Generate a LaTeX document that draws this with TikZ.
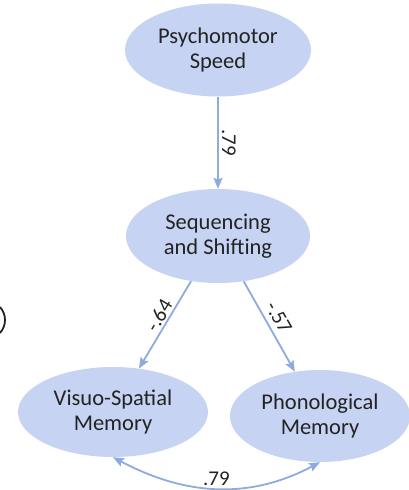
\documentclass[tikz,border=0pt]{standalone}
\usepackage{fontspec}
\setmainfont{Carlito}
\usetikzlibrary{shapes.geometric,arrows.meta}
\definecolor{nodefill}{RGB}{199,211,242}
\definecolor{pathblue}{RGB}{143,170,222}
\definecolor{inkgray}{RGB}{35,35,35}
\begin{document}
\begin{tikzpicture}[x=1pt,y=1pt,
  factor/.style={ellipse, fill=nodefill, draw=none, inner sep=0pt, align=center,
    text=inkgray, font=\fontsize{22.5}{24.5}\selectfont},
  link/.style={draw=pathblue, line width=1.8pt,
    -{Stealth[length=11pt,width=9pt,inset=2pt]}},
  twoway/.style={draw=pathblue, line width=1.8pt,
    {Stealth[length=11pt,width=9pt,inset=2pt]}-{Stealth[length=11pt,width=9pt,inset=2pt]}},
  coef/.style={font=\fontsize{21}{24}\selectfont, text=inkgray, sloped, above, inner sep=2pt}
]
\useasboundingbox (0,0) rectangle (409,-490);

% latent factors
\node[factor, minimum width=186pt, minimum height=93pt] (ps) at (218,-50) {Psychomotor\\Speed};
\node[factor, minimum width=184pt, minimum height=94pt] (ss) at (218,-236) {Sequencing\\and Shifting};
\node[factor, minimum width=190pt, minimum height=90pt] (vs) at (113,-412) {Visuo-Spatial\\Memory};
\node[factor, minimum width=180pt, minimum height=92pt] (pm) at (320,-416) {Phonological\\Memory};

% paths with coefficients
\draw[link] (ps) -- node[coef, pos=0.5, inner sep=3pt] {.79} (ss);
\draw[link] (ss) -- node[coef, pos=0.45] {-.64} (vs);
\draw[link] (ss) -- node[coef, pos=0.47, inner sep=5pt] {-.57} (pm);
\draw[twoway] (vs.south) to[out=-28, in=-152] node[midway, above, inner sep=2pt,
  font=\fontsize{21}{24}\selectfont, text=inkgray] {.79} (pm.south);

% edge of a neighbouring shape
\draw[inkgray, line width=1.8pt] (-14.4,-320) ++(-42:19.4) arc[start angle=-42, end angle=42, radius=19.4];
\end{tikzpicture}
\end{document}
